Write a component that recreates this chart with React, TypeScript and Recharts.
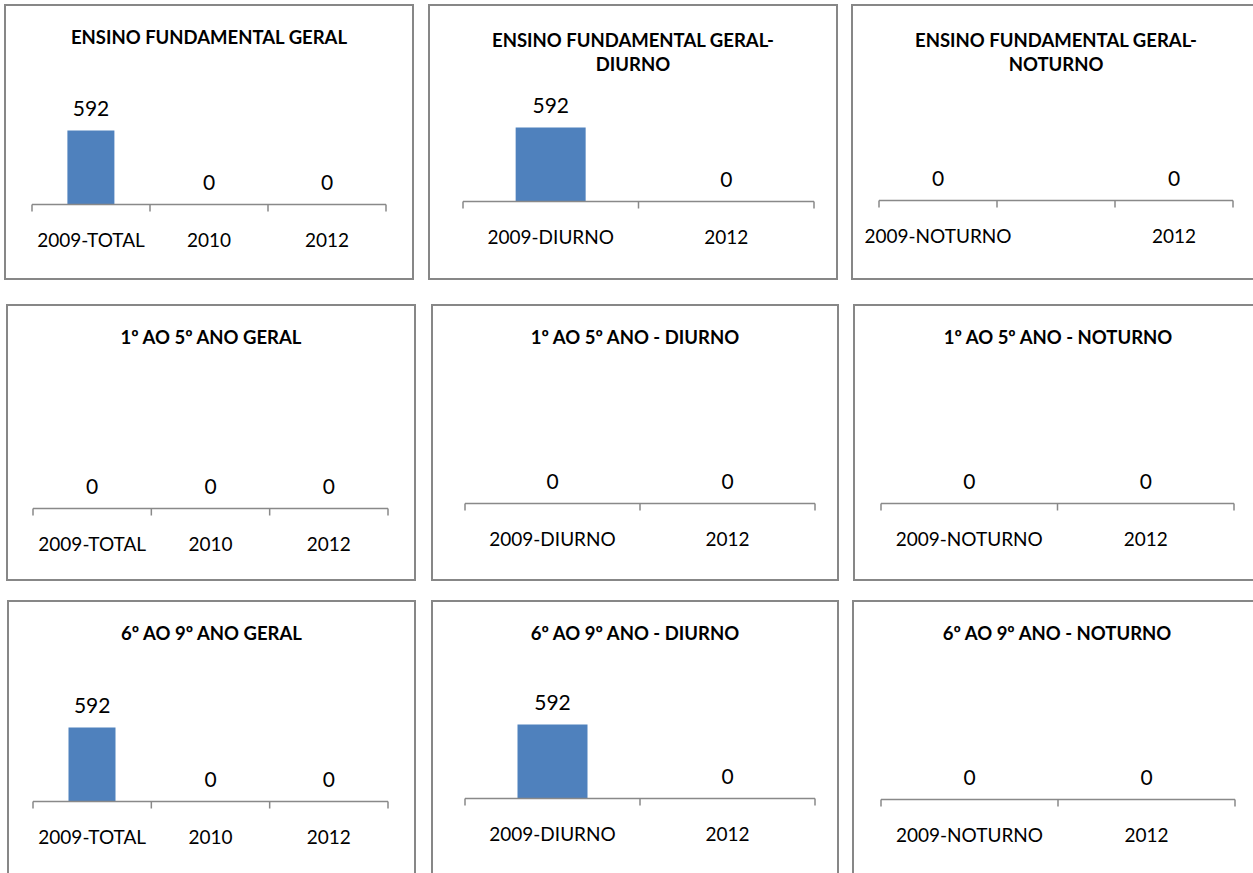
import React from "react";
import { ComposedChart, Bar, Line, XAxis, YAxis, LabelList } from "recharts";

// categorias de cada gráfico
const CATS_TOTAL = ["2009-TOTAL", "2010", "2012"];
const CATS_DIURNO = ["2009-DIURNO", "2012"];
const CATS_NOTURNO_GERAL = ["2009-NOTURNO", "", "2012"];
const CATS_NOTURNO = ["2009-NOTURNO", "2012"];

// valores (matrículas)
const FUND_GERAL = [592, 0, 0];
const FUND_DIURNO = [592, 0];
const FUND_NOTURNO = [0, null, 0];
const ANOS15_GERAL = [0, 0, 0];
const ANOS15_DIURNO = [0, 0];
const ANOS15_NOTURNO = [0, 0];
const ANOS69_GERAL = [592, 0, 0];
const ANOS69_DIURNO = [592, 0];
const ANOS69_NOTURNO = [0, 0];

const TITLES = [
  ["ENSINO FUNDAMENTAL GERAL"],
  ["ENSINO FUNDAMENTAL GERAL-", "DIURNO"],
  ["ENSINO FUNDAMENTAL GERAL-", "NOTURNO"],
  ["1º AO 5º ANO GERAL"],
  ["1º AO 5º ANO - DIURNO"],
  ["1º AO 5º ANO - NOTURNO"],
  ["6º AO 9º ANO GERAL"],
  ["6º AO 9º ANO - DIURNO"],
  ["6º AO 9º ANO - NOTURNO"],
];

const SERIES = [
  [CATS_TOTAL, FUND_GERAL],
  [CATS_DIURNO, FUND_DIURNO],
  [CATS_NOTURNO_GERAL, FUND_NOTURNO],
  [CATS_TOTAL, ANOS15_GERAL],
  [CATS_DIURNO, ANOS15_DIURNO],
  [CATS_NOTURNO, ANOS15_NOTURNO],
  [CATS_TOTAL, ANOS69_GERAL],
  [CATS_DIURNO, ANOS69_DIURNO],
  [CATS_NOTURNO, ANOS69_NOTURNO],
] as const;

// layout: caixa do painel [x, y, w, h] e eixo [x0, x1, y]
const BOXES = [
  [4, 4, 410, 276], [428, 4, 410, 276], [851, 4, 410, 276],
  [6, 304, 410, 277], [431, 304, 408, 277], [853, 304, 410, 277],
  [7, 600, 409, 280], [431, 600, 408, 280], [852, 600, 410, 280],
];
const AXES = [
  [32, 386, 204], [463, 814, 201], [879, 1233, 200],
  [33, 388, 508], [465, 815, 503], [881, 1234, 503],
  [33, 388, 801], [465, 815, 798], [881, 1235, 799],
];

const FONT = "Lato, 'Open Sans', sans-serif";
const BAR_COLOR = "#4F81BD";
const AXIS_COLOR = "#898989";
const PLOT_H = 87.5;
const TOP = 30;
const SIDE = 60;
const AXIS_H = 60;

function Panel({ idx }: { idx: number }) {
  const [cats, values] = SERIES[idx];
  const [bx, by, bw, bh] = BOXES[idx];
  const [x0, x1, ay] = AXES[idx];
  const title = TITLES[idx];
  const n = cats.length;

  const data = cats.map((c, i) => ({ idx: i, cat: c, valor: values[i] }));

  // rótulo no centro da categoria, marcas de divisão nas bordas
  const renderTick = (props: any) => {
    const { x, y, payload } = props;
    const i = Number(payload.value);
    const half = payload.offset ?? 0;
    return (
      <g>
        <line x1={x - half} x2={x - half} y1={y} y2={y + 7} stroke={AXIS_COLOR} strokeWidth={1.5} />
        {i === n - 1 && (
          <line x1={x + half} x2={x + half} y1={y} y2={y + 7} stroke={AXIS_COLOR} strokeWidth={1.5} />
        )}
        <text x={x} y={y + 35} textAnchor="middle" dominantBaseline="central"
          fontFamily={FONT} fontSize={19} fill="#000">
          {cats[i]}
        </text>
      </g>
    );
  };

  const renderValue = (props: any) => {
    const { x, y, width, value } = props;
    if (value === null || value === undefined || x == null || y == null) return null;
    const cx = width ? x + width / 2 : x;
    return (
      <text x={cx} y={y - 23} textAnchor="middle" dominantBaseline="central"
        fontFamily={FONT} fontSize={21} fill="#000">
        {value}
      </text>
    );
  };

  const titleTop = title.length > 1 ? 24 : 21;

  return (
    <>
      <div
        style={{
          position: "absolute", left: bx, top: by, width: bw, height: bh,
          boxSizing: "border-box", border: "2px solid #878787", background: "#fff",
        }}
      >
        <div
          style={{
            position: "absolute", left: 0, right: 0, top: titleTop - 2,
            textAlign: "center", fontFamily: FONT, fontWeight: 700,
            fontSize: 18.5, lineHeight: "24px", color: "#000",
          }}
        >
          {title.map((t) => <div key={t}>{t}</div>)}
        </div>
      </div>
      <div style={{ position: "absolute", left: x0 - SIDE, top: ay - PLOT_H - TOP }}>
        <ComposedChart
          width={x1 - x0 + 2 * SIDE}
          height={TOP + PLOT_H + AXIS_H}
          data={data}
          margin={{ top: TOP, right: SIDE, left: SIDE, bottom: 0 }}
          barCategoryGap="30%"
          style={{ overflow: "visible" }}
        >
          <XAxis
            dataKey="idx"
            type="category"
            interval={0}
            height={AXIS_H}
            tickSize={0}
            tickMargin={0}
            tickLine={false}
            axisLine={{ stroke: AXIS_COLOR, strokeWidth: 1.5 }}
            tick={renderTick}
          />
          <YAxis hide domain={[0, 700]} />
          <Bar dataKey="valor" fill={BAR_COLOR} isAnimationActive={false} />
          {/* série invisível só para os rótulos de valor (inclusive zeros) */}
          <Line
            dataKey="valor"
            stroke="none"
            dot={false}
            activeDot={false}
            legendType="none"
            isAnimationActive={false}
          >
            <LabelList dataKey="valor" content={renderValue} />
          </Line>
        </ComposedChart>
      </div>
    </>
  );
}

export default function App() {
  return (
    <div
      style={{
        position: "absolute", left: 0, top: 0, width: 1253, height: 873,
        overflow: "hidden", background: "#fff",
      }}
    >
      {SERIES.map((_, i) => <Panel key={i} idx={i} />)}
    </div>
  );
}
